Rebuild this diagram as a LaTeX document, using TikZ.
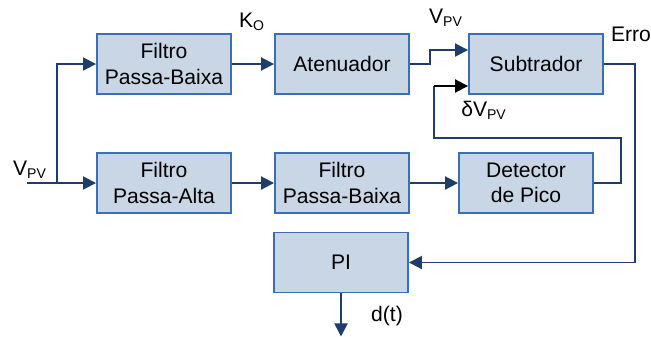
\documentclass[tikz,border=0pt]{standalone}
\usepackage{fontspec}
\setmainfont{Liberation Sans}
\usepackage{tikz}
\usetikzlibrary{arrows.meta,positioning}
\usepackage{xcolor}
\definecolor{boxfill}{HTML}{C9D6E5}
\definecolor{boxline}{HTML}{3A6EB5}
\definecolor{wire}{HTML}{1F3D6B}

\begin{document}
\begin{tikzpicture}[
  x=0.02cm, y=-0.02cm,
  block/.style={draw=boxline, fill=boxfill, line width=1.1pt, minimum width=2.68cm, minimum height=1.2cm, align=center, font=\fontsize{12}{14.5}\selectfont},
  arrow/.style={-{Triangle[length=2.6mm,width=2.6mm]}, line width=1.1pt, draw=wire},
  wirelabel/.style={font=\fontsize{12}{14}\selectfont}
]
\useasboundingbox (0,0) rectangle (651,336);

% Blocks (top row)
\node[block] (lpfa) at (164,64) {Filtro\\Passa-Baixa};
\node[block] (aten) at (342,64) {Atenuador};
\node[block] (sub) at (536,64) {Subtrador};

% Blocks (bottom row)
\node[block] (hpf) at (164,183) {Filtro\\Passa-Alta};
\node[block] (lpfb) at (342,183) {Filtro\\Passa-Baixa};
\node[block] (det) at (526,183) {Detector\\de Pico};
\node[block] (pi) at (341,262.5) {PI};

% Input and split
\coordinate (in) at (27,183);
\coordinate (split) at (57,183);
\draw[arrow] (in) -- (hpf);
\draw[arrow] (split) |- (lpfa);

% Forward path
\draw[arrow] (lpfa) -- (aten);
\draw[arrow] (hpf) -- (lpfb);
\draw[arrow] (lpfb) -- (det);
\draw[arrow] (aten.east) -- (430,64) |- ([yshift=0.28cm]sub.west);

% Peak feedback
\coordinate (fb) at (434,86);
\draw[line width=1.1pt, wire] (det.east) -- (621,183) -- (621,138) -- (434,138) -- (fb);
\draw[arrow, draw=black] (fb) -- (fb -| sub.west);

% Error to PI
\draw[arrow] (sub.east) -- (635,64) |- (pi.east);
\draw[arrow] (pi.south) -- ++(0,43);

% Labels
\node[wirelabel] (vin) at (30,170) {V\textsubscript{PV}};
\node[wirelabel] (ko) at (252,22) {K\textsubscript{O}};
\node[wirelabel] (vpv) at (446,18) {V\textsubscript{PV}};
\node[wirelabel] (dvpv) at (484,110) {δV\textsubscript{PV}};
\node[wirelabel] (erro) at (631,34) {Erro};
\node[wirelabel] (dt) at (387,316) {d(t)};

\end{tikzpicture}
\end{document}
